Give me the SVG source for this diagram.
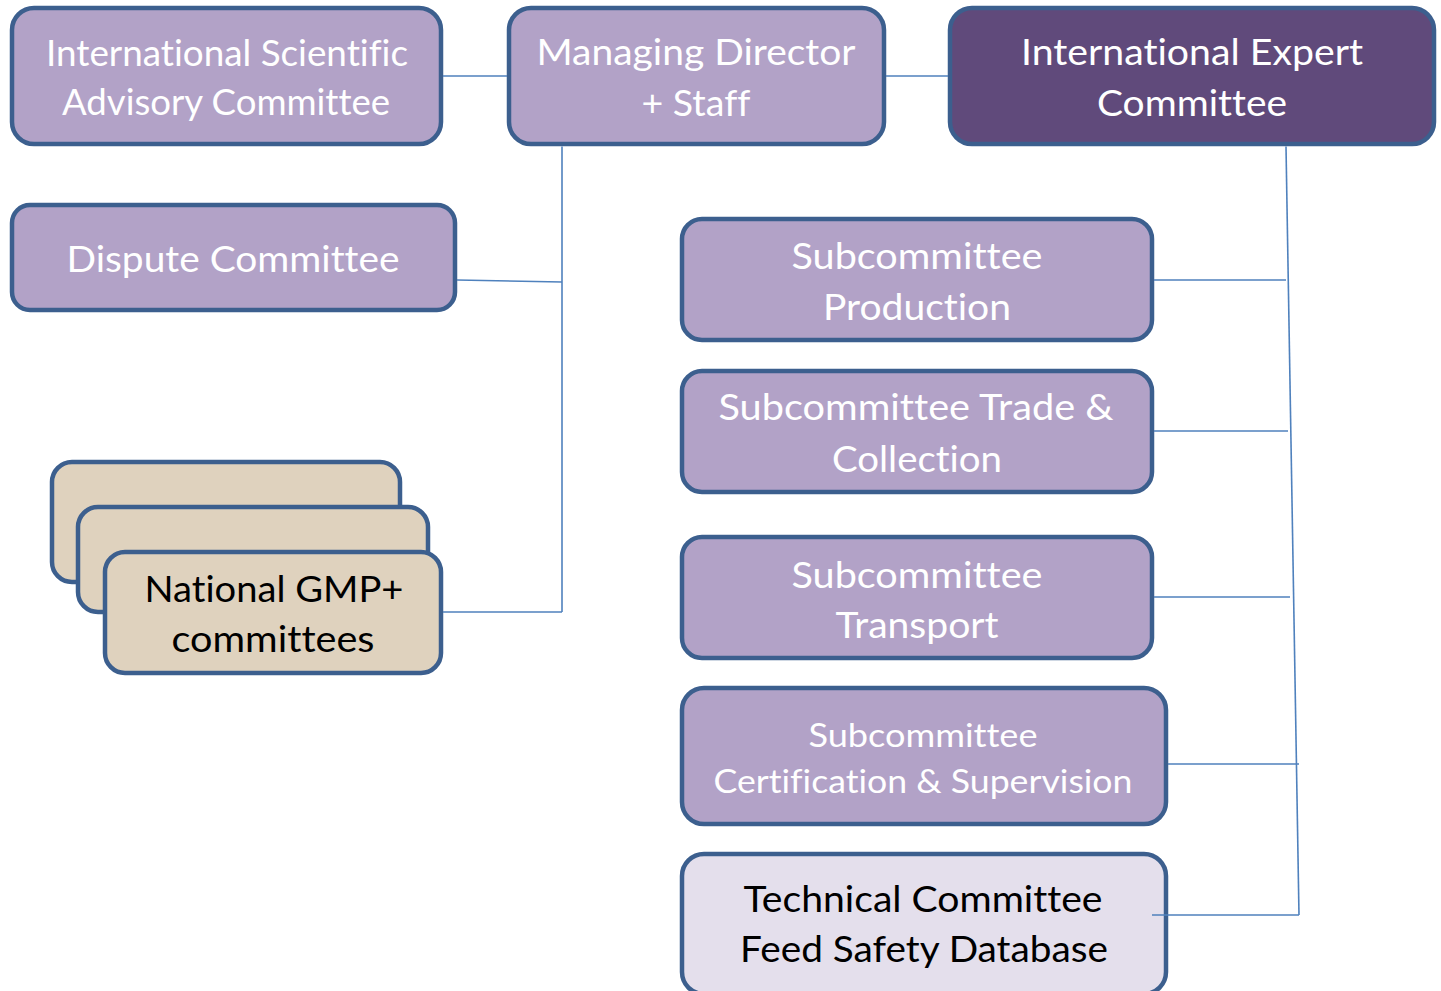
<svg xmlns="http://www.w3.org/2000/svg" width="1441" height="991" viewBox="0 0 1441 991">
<style>
.box{fill:#b2a2c7;stroke:#3c5f8e;stroke-width:4.5}
.dark{fill:#604a7b;stroke:#3c5f8e;stroke-width:4.5}
.tan{fill:#dfd2be;stroke:#3c5f8e;stroke-width:4.5}
.light{fill:#e4dfec;stroke:#3c5f8e;stroke-width:4.5}
text{font-family:Lato,"Liberation Sans",sans-serif;font-size:37px;text-anchor:middle;font-variant-ligatures:none}
.w{fill:#ffffff}
.b{fill:#000000}
.c line{stroke:#4f81bd;stroke-width:1.6}
</style>
<rect width="1441" height="991" fill="#ffffff"/>
<g id="isac"><rect class="box" x="12" y="8" width="429" height="136" rx="22"/>
<text class="w" x="227" y="66" textLength="362" lengthAdjust="spacingAndGlyphs">International Scientific</text><text class="w" x="226" y="115" textLength="328" lengthAdjust="spacingAndGlyphs">Advisory Committee</text></g>
<g id="md"><rect class="box" x="509" y="8" width="375" height="136" rx="22"/>
<text class="w" x="696" y="65" textLength="319" lengthAdjust="spacingAndGlyphs">Managing Director</text><text class="w" x="696" y="116" textLength="109" lengthAdjust="spacingAndGlyphs">+ Staff</text></g>
<g id="iec"><rect class="dark" x="950" y="8" width="484" height="136" rx="22"/>
<text class="w" x="1192" y="65" textLength="342" lengthAdjust="spacingAndGlyphs">International Expert</text><text class="w" x="1192" y="116" textLength="190" lengthAdjust="spacingAndGlyphs">Committee</text></g>
<g id="dispute"><rect class="box" x="12" y="205" width="443" height="105" rx="18"/>
<text class="w" x="233" y="272" textLength="333" lengthAdjust="spacingAndGlyphs">Dispute Committee</text></g>
<g id="national"><rect class="tan" x="52" y="462" width="348" height="120" rx="20"/>
<rect class="tan" x="78" y="507" width="350" height="105" rx="20"/>
<rect class="tan" x="105" y="552" width="336" height="121" rx="20"/>
<text class="b" x="274" y="602" textLength="259" lengthAdjust="spacingAndGlyphs">National GMP+</text><text class="b" x="273" y="652" textLength="203" lengthAdjust="spacingAndGlyphs">committees</text></g>
<g id="production"><rect class="box" x="682" y="219" width="470" height="121" rx="20"/>
<text class="w" x="917" y="269" textLength="251" lengthAdjust="spacingAndGlyphs">Subcommittee</text><text class="w" x="917" y="320" textLength="188" lengthAdjust="spacingAndGlyphs">Production</text></g>
<g id="trade"><rect class="box" x="682" y="371" width="470" height="121" rx="20"/>
<text class="w" x="916" y="420" textLength="395" lengthAdjust="spacingAndGlyphs">Subcommittee Trade &amp;</text><text class="w" x="917" y="472" textLength="170" lengthAdjust="spacingAndGlyphs">Collection</text></g>
<g id="transport"><rect class="box" x="682" y="537" width="470" height="121" rx="20"/>
<text class="w" x="917" y="588" textLength="251" lengthAdjust="spacingAndGlyphs">Subcommittee</text><text class="w" x="917" y="638" textLength="163" lengthAdjust="spacingAndGlyphs">Transport</text></g>
<g id="certification"><rect class="box" x="682" y="688" width="484" height="136" rx="22"/>
<text class="w" x="923" y="747" style="font-size:33px" textLength="229" lengthAdjust="spacingAndGlyphs">Subcommittee</text><text class="w" x="923" y="793" style="font-size:33px" textLength="419" lengthAdjust="spacingAndGlyphs">Certification &amp; Supervision</text></g>
<g id="technical"><rect class="light" x="682" y="854" width="484" height="140" rx="22"/>
<text class="b" x="923" y="912" textLength="359" lengthAdjust="spacingAndGlyphs">Technical Committee</text><text class="b" x="924" y="962" textLength="368" lengthAdjust="spacingAndGlyphs">Feed Safety Database</text></g>
<g class="c" id="connectors">
<line x1="443" y1="76" x2="507" y2="76"/>
<line x1="886" y1="76" x2="948" y2="76"/>
<line x1="562" y1="146.5" x2="562" y2="612"/>
<line x1="457" y1="280" x2="562" y2="282"/>
<line x1="443" y1="612" x2="562" y2="612"/>
<line x1="1286" y1="146.5" x2="1299" y2="915"/>
<line x1="1154" y1="280" x2="1286" y2="280"/>
<line x1="1154" y1="431" x2="1288" y2="431"/>
<line x1="1154" y1="597" x2="1290" y2="597"/>
<line x1="1168" y1="764" x2="1299" y2="764"/>
<line x1="1152" y1="915" x2="1299" y2="915"/>
</g>
</svg>
